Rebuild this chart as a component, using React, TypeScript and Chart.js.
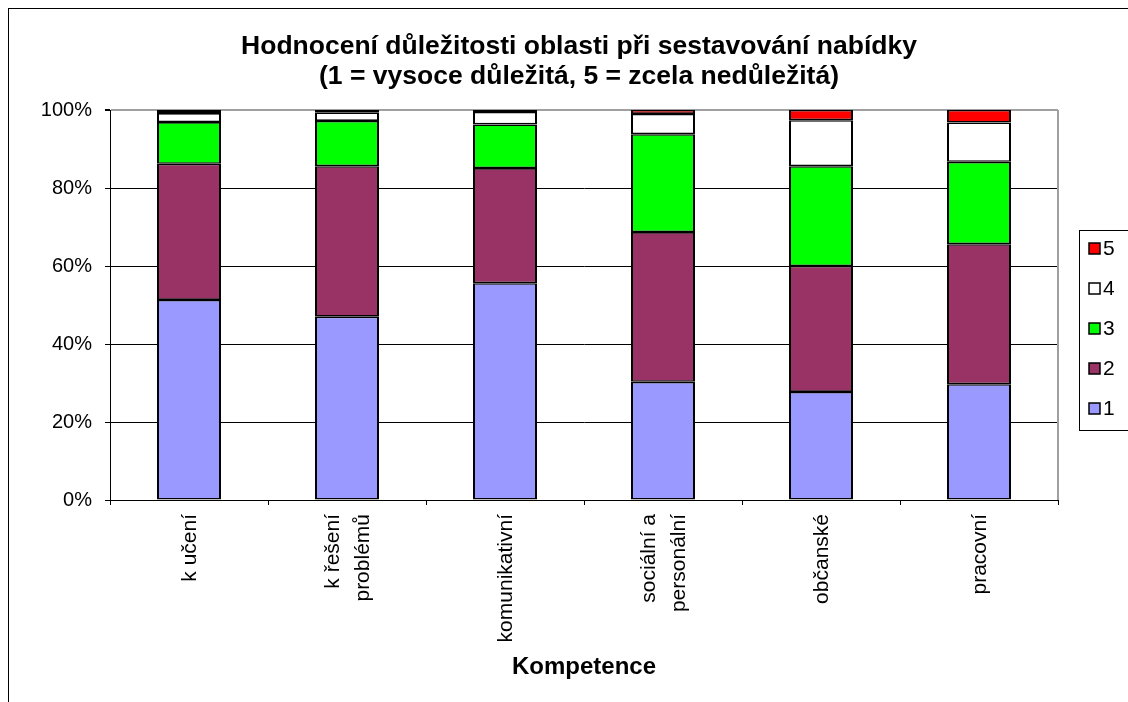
import React, { useEffect, useRef } from 'react';
import { Chart, registerables } from 'chart.js';

Chart.register(...registerables);

const FONT = "'Liberation Sans', Arial, sans-serif";

const titleLines = [
  'Hodnocení důležitosti oblasti při sestavování nabídky',
  '(1 = vysoce důležitá, 5 = zcela nedůležitá)',
];
const axisTitle = 'Kompetence';

const categories: string[][] = [
  ['k učení'],
  ['k řešení', 'problémů'],
  ['komunikativní'],
  ['sociální a', 'personální'],
  ['občanské'],
  ['pracovní'],
];

const seriesLabels = ['1', '2', '3', '4', '5'];
const series1 = [51.3, 47.0, 55.6, 30.3, 27.7, 29.7];
const series2 = [34.9, 38.6, 29.5, 38.4, 32.3, 35.9];
const series3 = [10.7, 11.6, 11.2, 25.1, 25.6, 21.1];
const series4 = [2.3, 2.2, 3.2, 5.2, 11.8, 10.1];
const series5 = [0.8, 0.6, 0.5, 1.0, 2.6, 3.2];
const seriesColors = ['#9999FF', '#993366', '#00FF00', '#FFFFFF', '#FF0000'];

const yTickValues = [0, 20, 40, 60, 80, 100];

const CANVAS_W = 1140;
const CANVAS_H = 700;

const plotBorderPlugin = {
  id: 'plotBorder',
  beforeDatasetsDraw(chart: any) {
    const { ctx, chartArea } = chart;
    ctx.save();
    ctx.strokeStyle = '#a0a0a0';
    ctx.lineWidth = 2;
    ctx.beginPath();
    ctx.moveTo(chartArea.right, chartArea.top);
    ctx.lineTo(chartArea.right, chartArea.bottom);
    ctx.stroke();
    ctx.restore();
  },
};

// Rotated, centred multi-line category labels drawn at the x scale's tick pixels
const xLabelPlugin = {
  id: 'xLabels',
  afterDraw(chart: any) {
    const { ctx } = chart;
    const xs = chart.scales.x;
    const lineH = 30;
    const pad = 14;
    ctx.save();
    ctx.font = `21px ${FONT}`;
    ctx.fillStyle = '#000';
    ctx.textAlign = 'right';
    ctx.textBaseline = 'middle';
    (chart.data.labels as string[][]).forEach((lines, i) => {
      const x = xs.getPixelForTick(i);
      ctx.save();
      ctx.translate(x, xs.top);
      ctx.rotate(-Math.PI / 2);
      lines.forEach((line, j) => {
        ctx.fillText(line, -pad, (j - (lines.length - 1) / 2) * lineH + 1);
      });
      ctx.restore();
    });
    ctx.restore();
  },
};

const boxLegendPlugin = {
  id: 'boxLegend',
  afterDraw(chart: any) {
    const { ctx } = chart;
    const x0 = 1070;
    const y0 = 221;
    const h = 200;
    ctx.save();
    ctx.strokeStyle = '#000';
    ctx.lineWidth = 1;
    ctx.strokeRect(x0 + 0.5, y0 + 0.5, 200, h);
    const ds = chart.data.datasets.slice().reverse();
    ctx.font = `21px ${FONT}`;
    ctx.textBaseline = 'middle';
    ctx.textAlign = 'left';
    ds.forEach((d: any, i: number) => {
      const cy = y0 + 18 + i * 40;
      ctx.fillStyle = d.backgroundColor;
      ctx.fillRect(x0 + 10, cy - 5, 11, 11);
      ctx.strokeStyle = '#000';
      ctx.lineWidth = 1.5;
      ctx.strokeRect(x0 + 10, cy - 5, 11, 11);
      ctx.fillStyle = '#000';
      ctx.fillText(d.label, x0 + 24, cy + 1);
    });
    ctx.restore();
  },
};

export default function App() {
  const canvasRef = useRef<HTMLCanvasElement | null>(null);

  useEffect(() => {
    document.body.style.overflow = 'hidden';
    document.documentElement.style.overflow = 'hidden';
    const canvas = canvasRef.current;
    if (!canvas) return;
    const data = [series1, series2, series3, series4, series5];
    const chart = new Chart(canvas, {
      type: 'bar',
      data: {
        labels: categories,
        datasets: seriesLabels.map((lab, i) => ({
          label: lab,
          data: data[i],
          backgroundColor: seriesColors[i],
          borderColor: '#000',
          borderWidth: { top: 1.6, bottom: 1.6, left: 2, right: 2 },
          borderSkipped: false,
          barPercentage: 0.405,
          categoryPercentage: 1,
        })),
      },
      options: {
        animation: false,
        responsive: false,
        devicePixelRatio: 1,
        layout: { padding: 0 },
        plugins: {
          legend: { display: false },
          tooltip: { enabled: false },
          title: {
            display: true,
            text: titleLines,
            color: '#000',
            font: { family: FONT, size: 26.5, weight: 'bold', lineHeight: 30 / 26.5 },
            padding: { top: 23, bottom: 18 },
          },
        },
        scales: {
          x: {
            stacked: true,
            offset: true,
            grid: {
              offset: true,
              drawOnChartArea: false,
              drawTicks: true,
              tickLength: 5,
              tickColor: '#000',
              color: '#000',
            },
            border: { color: '#000', width: 1 },
            ticks: { display: false },
            title: {
              display: true,
              text: axisTitle,
              color: '#000',
              font: { family: FONT, size: 24, weight: 'bold', lineHeight: 1.2 },
              padding: { top: 0, bottom: 27 },
            },
            afterFit(s: any) {
              s.height = 209;
            },
          },
          y: {
            stacked: true,
            min: 0,
            max: 100,
            afterBuildTicks(s: any) {
              s.ticks = yTickValues.map((v) => ({ value: v }));
            },
            ticks: {
              callback: (v: any) => `${v}%`,
              padding: 13,
              color: '#000',
              font: { family: FONT, size: 20 },
            },
            grid: {
              color: (c: any) => (c.tick && c.tick.value === 100 ? '#a0a0a0' : '#000'),
              lineWidth: (c: any) => (c.tick && c.tick.value === 100 ? 2 : 1),
              tickLength: 5,
              tickColor: '#000',
            },
            border: { color: '#000', width: 1 },
            afterFit(s: any) {
              s.width = 101;
            },
          },
          yR: {
            type: 'linear',
            position: 'right',
            display: true,
            grid: { display: false },
            border: { display: false },
            ticks: { display: false },
            afterFit(s: any) {
              s.width = 91;
            },
          },
        },
      } as any,
      plugins: [plotBorderPlugin, xLabelPlugin, boxLegendPlugin],
    });
    return () => chart.destroy();
  }, []);

  return (
    <div
      style={{
        position: 'absolute',
        left: 8,
        top: 8,
        width: CANVAS_W,
        height: CANVAS_H,
        border: '1px solid #000',
        background: '#fff',
      }}
    >
      <canvas
        ref={canvasRef}
        width={CANVAS_W}
        height={CANVAS_H}
        style={{ display: 'block', width: CANVAS_W, height: CANVAS_H }}
      />
    </div>
  );
}
